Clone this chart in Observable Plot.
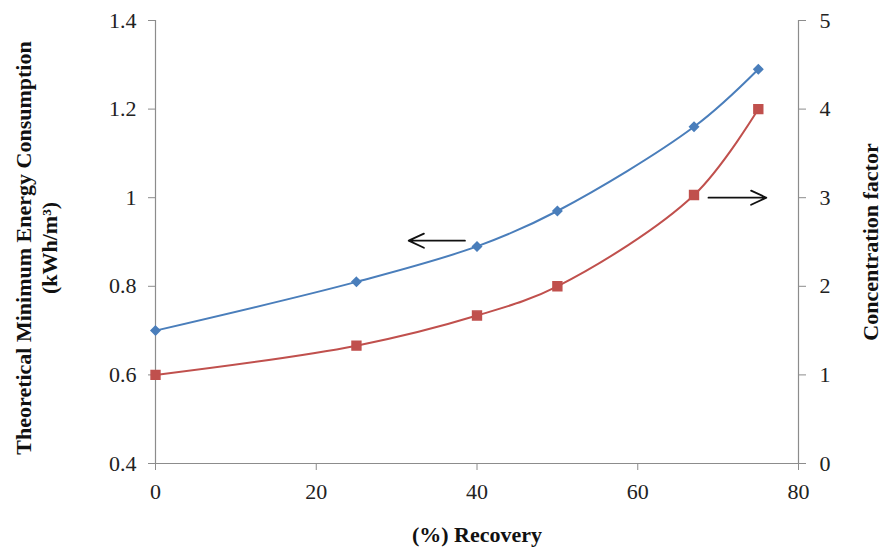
<!DOCTYPE html>
<html>
<head>
<meta charset="utf-8">
<script src="https://cdn.jsdelivr.net/npm/d3@7"></script>
<script src="https://cdn.jsdelivr.net/npm/@observablehq/plot@0.6"></script>
<style>
  html, body { margin: 0; padding: 0; background: #fff; }
  #chart svg { display: block; font-family: "Liberation Serif", "Times New Roman", serif !important; }
  #chart svg text { font-family: "Liberation Serif", "Times New Roman", serif !important; }
</style>
</head>
<body>
<div id="chart"></div>
<script>
const recovery = [0, 25, 40, 50, 67, 75];
const energy = [0.70, 0.81, 0.89, 0.97, 1.16, 1.29];
const concentration = [1.0, 1.33, 1.67, 2.0, 3.03, 4.0];
const xTicks = [0, 20, 40, 60, 80];
const leftTicks = [0.4, 0.6, 0.8, 1.0, 1.2, 1.4];
const rightTicks = [0, 1, 2, 3, 4, 5];
// annotation arrows: [x1, x2, value, axis]
const arrowsData = [
  {x1: 38.5, x2: 31.5, y: 0.903, axis: "left"},
  {x1: 68.8, x2: 76.0, y: 3.0, axis: "right"}
];

const leftMin = 0.4, leftMax = 1.4, rightMin = 0, rightMax = 5;
const toLeft = v => leftMin + (v - rightMin) * (leftMax - leftMin) / (rightMax - rightMin);

const blue = "#4A7EBB";
const red = "#C0504D";
const axisGrey = "#8c8c8c";

const energyData = recovery.map((r, i) => ({x: r, y: energy[i]}));
const concData = recovery.map((r, i) => ({x: r, y: toLeft(concentration[i])}));
const arrows = arrowsData.map(a => ({x1: a.x1, x2: a.x2, y: a.axis === "right" ? toLeft(a.y) : a.y}));

const font = "Liberation Serif, Times New Roman, serif";

const chart = Plot.plot({
  width: 882,
  height: 549,
  marginLeft: 155,
  marginRight: 84,
  marginTop: 20,
  marginBottom: 86,
  style: {fontFamily: font, fontSize: "22px", color: "#222", background: "#fff"},
  x: {domain: [0, 80]},
  y: {domain: [leftMin, leftMax]},
  marks: [
    Plot.ruleX([0, 80], {stroke: axisGrey, strokeWidth: 1.2}),
    Plot.ruleY([0.4], {stroke: axisGrey, strokeWidth: 1.2}),
    Plot.axisX({ticks: xTicks, tickSize: 7, tickPadding: 13, stroke: axisGrey, label: null, fontSize: 22, fill: "#222"}),
    Plot.axisY({anchor: "left", ticks: leftTicks, tickSize: 7, tickPadding: 12, stroke: axisGrey, label: null,
      tickFormat: d => (Math.round(d * 10) / 10).toString(), fontSize: 22, fill: "#222"}),
    Plot.axisY({anchor: "right", ticks: rightTicks.map(toLeft), tickSize: 7, tickPadding: 14, stroke: axisGrey, label: null,
      tickFormat: d => Math.round((d - leftMin) * (rightMax - rightMin) / (leftMax - leftMin)).toString(), fontSize: 22, fill: "#222"}),
    Plot.line(energyData, {x: "x", y: "y", stroke: blue, strokeWidth: 2, curve: "catmull-rom"}),
    Plot.line(concData, {x: "x", y: "y", stroke: red, strokeWidth: 2, curve: "catmull-rom"}),
    Plot.dot(energyData, {x: "x", y: "y", symbol: "diamond2", r: 4, fill: blue, stroke: blue}),
    Plot.dot(concData, {x: "x", y: "y", symbol: "square", r: 5, fill: red, stroke: red}),
    Plot.arrow(arrows, {x1: "x1", x2: "x2", y1: "y", y2: "y", stroke: "#111", strokeWidth: 1.8, headLength: 14, headAngle: 50}),
    Plot.text([0], {frameAnchor: "left", dx: -120, dy: 6, rotate: -90, textAnchor: "middle", lineAnchor: "middle", lineHeight: 1.2,
      text: () => "Theoretical Minimum Energy Consumption\n(kWh/m³)", fontWeight: "bold", fontSize: 22, fill: "#111"}),
    Plot.text([0], {frameAnchor: "right", dx: 72, rotate: -90, textAnchor: "middle", lineAnchor: "middle",
      text: () => "Concentration factor", fontWeight: "bold", fontSize: 22, fill: "#111"}),
    Plot.text([0], {frameAnchor: "bottom", dy: 71, textAnchor: "middle", lineAnchor: "middle",
      text: () => "(%) Recovery", fontWeight: "bold", fontSize: 22, fill: "#111"})
  ]
});
document.getElementById("chart").appendChild(chart);
</script>
</body>
</html>
